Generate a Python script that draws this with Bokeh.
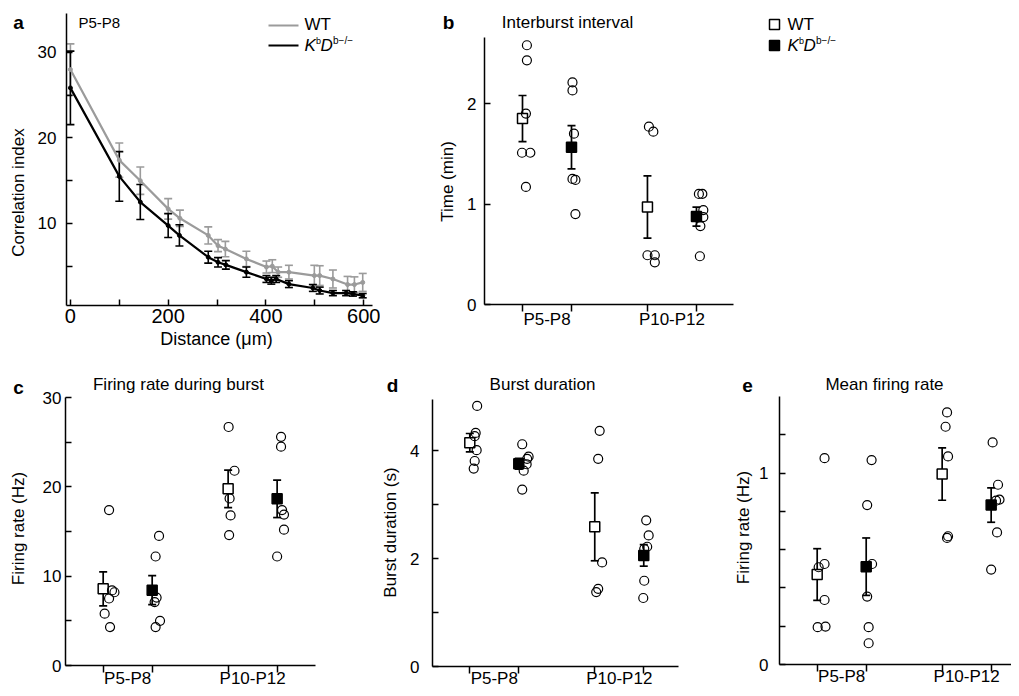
import math
from bokeh.plotting import figure
from bokeh.models import ColumnDataSource, Whisker, TeeHead, Label, FixedTicker, Range1d
from bokeh.layouts import row, column
from bokeh.embed import file_html
from bokeh.resources import INLINE

FONT = "Liberation Sans"
GRAY = "#9b9b9b"

# ---------------- data: panel a (correlation index vs distance) ----------------
wt_dist = [0, 100, 143, 200, 224, 282, 302, 317, 360, 401, 413, 425, 447, 499, 510, 537, 567, 581, 598]
wt_corr = [28.0, 17.4, 15.0, 11.7, 10.6, 8.6, 7.4, 7.0, 5.85, 4.9, 5.0, 4.3, 4.3, 3.9, 3.9, 3.5, 2.85, 2.85, 3.1]
wt_corr_sem = [3.0, 2.0, 1.6, 1.2, 0.95, 1.0, 0.7, 0.9, 0.9, 0.7, 0.75, 0.6, 0.8, 1.2, 1.15, 1.05, 0.95, 0.9, 1.05]
ko_dist = [0, 100, 143, 200, 223, 282, 302, 318, 360, 401, 411, 421, 447, 496, 510, 537, 564, 578, 598]
ko_corr = [25.85, 15.5, 12.5, 9.75, 8.6, 6.05, 5.45, 5.15, 4.3, 3.5, 3.3, 3.5, 2.9, 2.45, 2.15, 1.85, 1.85, 1.75, 1.55]
ko_corr_sem = [4.3, 2.9, 2.05, 1.4, 1.25, 0.7, 0.55, 0.5, 0.6, 0.4, 0.4, 0.4, 0.4, 0.4, 0.4, 0.3, 0.3, 0.25, 0.25]

group_names = ["P5-P8", "P10-P12"]
# order of groups in each panel: WT P5-P8, KO P5-P8, WT P10-P12, KO P10-P12

# ---------------- panel b: interburst interval (min) ----------------
b_points = [[2.58, 2.43, 1.90, 1.51, 1.51, 1.17],
            [2.21, 2.13, 1.70, 1.25, 1.24, 0.90],
            [1.77, 1.72, 0.49, 0.49, 0.42],
            [1.10, 1.10, 0.94, 0.87, 0.78, 0.48]]
b_jitter = [[0.09, 0.09, 0.07, -0.01, 0.16, 0.07],
            [0.02, 0.02, 0.05, 0.02, 0.08, 0.08],
            [0.03, 0.12, 0.0, 0.15, 0.15],
            [0.05, 0.12, 0.14, 0.14, 0.08, 0.07]]
b_mean = [1.85, 1.565, 0.97, 0.875]
b_sem = [0.23, 0.215, 0.31, 0.095]

# ---------------- panel c: firing rate during burst (Hz) ----------------
c_points = [[17.4, 8.4, 8.2, 7.5, 5.8, 4.3],
            [14.5, 12.2, 7.6, 7.1, 5.0, 4.3],
            [26.7, 21.8, 18.7, 16.8, 14.6],
            [25.6, 24.5, 17.4, 16.9, 15.2, 12.2]]
c_jitter = [[0.12, 0.18, 0.23, 0.12, 0.03, 0.14],
            [0.14, 0.07, 0.09, 0.05, 0.16, 0.07],
            [0.01, 0.13, 0.03, 0.05, 0.02],
            [0.08, 0.08, 0.10, 0.14, 0.14, 0.0]]
c_mean = [8.58, 8.43, 19.78, 18.66]
c_sem = [1.9, 1.62, 2.1, 2.1]

# ---------------- panel d: burst duration (s) ----------------
d_points = [[4.83, 4.33, 4.27, 4.01, 3.81, 3.67],
            [4.12, 3.89, 3.85, 3.75, 3.63, 3.28],
            [4.37, 3.85, 1.93, 1.44, 1.38],
            [2.71, 2.43, 2.22, 2.18, 1.59, 1.27]]
d_jitter = [[0.15, 0.12, 0.10, 0.14, 0.10, 0.08],
            [0.07, 0.20, 0.17, 0.16, 0.10, 0.07],
            [0.10, 0.07, 0.15, 0.07, 0.03],
            [0.05, 0.10, 0.07, 0.01, 0.01, -0.01]]
d_mean = [4.15, 3.76, 2.59, 2.06]
d_sem = [0.17, 0.10, 0.63, 0.20]

# ---------------- panel e: mean firing rate (Hz) ----------------
e_points = [[1.078, 0.525, 0.508, 0.337, 0.195, 0.198],
            [1.068, 0.833, 0.525, 0.355, 0.195, 0.111],
            [1.317, 1.242, 1.087, 0.670, 0.661],
            [1.160, 0.939, 0.861, 0.856, 0.690, 0.496]]
e_jitter = [[0.15, 0.15, 0.03, 0.15, 0.01, 0.17],
            [0.11, 0.02, 0.12, 0.02, 0.05, 0.05],
            [0.10, 0.07, 0.12, 0.12, 0.10],
            [0.03, 0.14, 0.17, 0.10, 0.12, 0.0]]
e_mean = [0.47, 0.511, 0.995, 0.833]
e_sem = [0.135, 0.15, 0.137, 0.09]

# ---------------- layout helpers ----------------
CAT_X = [0, 1, 2.55, 3.55]
GROUP_X = [0.5, 3.05]


class Panel:
    """A figure whose frame fills the whole canvas; axes are pinned with fixed_location."""

    def __init__(self, fx, fy, w, h, L, R, T, B, xr, yr):
        self.fx, self.fy, self.w, self.h = fx, fy, w, h
        self.L, self.R, self.T, self.B = L, R, T, B
        self.xr, self.yr = xr, yr
        p = figure(width=w, height=h, title=None,
                   x_range=Range1d(self.dx(fx), self.dx(fx + w)),
                   y_range=Range1d(self.dy(fy + h), self.dy(fy)),
                   min_border_left=0, min_border_right=0, min_border_top=0, min_border_bottom=0,
                   output_backend="svg", toolbar_location=None)
        p.grid.visible = False
        p.outline_line_color = None
        p.background_fill_color = "white"
        p.border_fill_color = "white"
        xa, ya = p.xaxis[0], p.yaxis[0]
        xa.fixed_location = yr[0]
        xa.bounds = xr
        ya.fixed_location = xr[0]
        ya.bounds = yr
        self.p = p

    def dx(self, px):
        return self.xr[0] + (px - self.L) / (self.R - self.L) * (self.xr[1] - self.xr[0])

    def dy(self, py):
        return self.yr[0] + (self.B - py) / (self.B - self.T) * (self.yr[1] - self.yr[0])

    def px(self, x):
        return self.L + (x - self.xr[0]) / (self.xr[1] - self.xr[0]) * (self.R - self.L)

    def label(self, px, py, text, size=17, align="center", angle=0.0, style="normal"):
        self.p.add_layout(Label(x=px - self.fx, y=self.fy + self.h - py,
                                x_units="screen", y_units="screen",
                                text=text, text_font=FONT, text_font_size=f"{size}px",
                                text_font_style=style, text_color="black",
                                text_align=align, text_baseline="middle", angle=angle))

    def kb_label(self, px, py_mid):
        parts = [("K", 0, 0, 17, "italic"), ("b", 11.5, 5, 9, "normal"),
                 ("D", 16, 0, 17, "italic"), ("b\u2212/\u2212", 28.5, 5, 10, "normal")]
        for t, ox, oy, s, st in parts:
            self.label(px + ox, py_mid - oy, t, size=s, align="left", style=st)


def style_axis(ax, size):
    ax.axis_line_color = "black"
    ax.axis_line_width = 1.5
    ax.major_tick_line_color = "black"
    ax.major_tick_line_width = 1.5
    ax.minor_tick_line_color = "black"
    ax.minor_tick_line_width = 1.5
    ax.major_label_text_font = FONT
    ax.major_label_text_font_size = size
    ax.major_label_text_color = "black"


def whisker(p, xs, ys, errs, color, lw, cap):
    src = ColumnDataSource(dict(x=xs, lo=[y - e for y, e in zip(ys, errs)],
                                hi=[y + e for y, e in zip(ys, errs)]))
    p.add_layout(Whisker(source=src, base="x", lower="lo", upper="hi", dimension="height",
                         line_color=color, line_width=lw,
                         upper_head=TeeHead(size=cap, line_color=color, line_width=lw),
                         lower_head=TeeHead(size=cap, line_color=color, line_width=lw)))


def cat_panel(pan, points, jitter, means, sems, yticks, yminor, standoff, label_mid):
    p = pan.p
    xa, ya = p.xaxis[0], p.yaxis[0]
    style_axis(xa, "0px")
    style_axis(ya, "17px")
    xa.ticker = FixedTicker(ticks=[], minor_ticks=CAT_X)
    xa.major_tick_in = 0
    xa.major_tick_out = 0
    xa.minor_tick_in = 0
    xa.minor_tick_out = 7
    ya.ticker = FixedTicker(ticks=yticks, minor_ticks=yminor)
    ya.major_tick_in = 6
    ya.major_tick_out = 0
    ya.minor_tick_in = 6
    ya.minor_tick_out = 0
    ya.major_label_standoff = standoff
    whisker(p, CAT_X, means, sems, "black", 1.7, 8)
    p.scatter(x=CAT_X[0::2], y=means[0::2], marker="square", size=10,
              fill_color="white", line_color="black", line_width=1.5)
    p.scatter(x=CAT_X[1::2], y=means[1::2], marker="square", size=10,
              fill_color="black", line_color="black", line_width=1.5)
    cx, cy = [], []
    for gx, vals, jit in zip(CAT_X, points, jitter):
        for v, j in zip(vals, jit):
            cx.append(gx + j)
            cy.append(v)
    p.scatter(x=cx, y=cy, marker="circle", size=9, fill_color=None,
              line_color="black", line_width=1.2)
    for gx, name in zip(GROUP_X, group_names):
        pan.label(pan.px(gx), label_mid, name, size=17)


# ---------------- panel a ----------------
A = Panel(0, 0, 380, 350, 66, 372, 13, 305, (-8, 618), (0.4, 34.55))
pa = A.p
style_axis(pa.xaxis[0], "20px")
style_axis(pa.yaxis[0], "17px")
pa.xaxis[0].ticker = FixedTicker(ticks=[0, 200, 400, 600], minor_ticks=[100, 300, 500])
pa.xaxis[0].major_tick_in = 6
pa.xaxis[0].major_tick_out = 0
pa.xaxis[0].minor_tick_in = 6
pa.xaxis[0].minor_tick_out = 0
pa.xaxis[0].major_label_standoff = 3
pa.yaxis[0].ticker = FixedTicker(ticks=[10, 20, 30], minor_ticks=[5, 15, 25])
pa.yaxis[0].major_tick_in = 6
pa.yaxis[0].major_tick_out = 0
pa.yaxis[0].minor_tick_in = 6
pa.yaxis[0].minor_tick_out = 0
pa.yaxis[0].major_label_standoff = 10

whisker(pa, wt_dist, wt_corr, wt_corr_sem, GRAY, 1.6, 8)
whisker(pa, ko_dist, ko_corr, ko_corr_sem, "black", 1.6, 8)
pa.line(wt_dist, wt_corr, line_color=GRAY, line_width=2.2)
pa.scatter(wt_dist, wt_corr, marker="circle", size=4, color=GRAY)
pa.line(ko_dist, ko_corr, line_color="black", line_width=2.2)
pa.scatter(ko_dist, ko_corr, marker="circle", size=4, color="black")

# legend a
pa.line([A.dx(268), A.dx(298)], [A.dy(25), A.dy(25)], line_color=GRAY, line_width=2.2)
pa.line([A.dx(268), A.dx(298)], [A.dy(45), A.dy(45)], line_color="black", line_width=2.2)
A.label(304, 24, "WT", align="left")
A.kb_label(304, 45)

A.label(18, 22, "a", size=19, style="bold")
A.label(78, 22, "P5-P8", size=15, align="left")
A.label(18, 192, "Correlation index", size=17, angle=math.pi / 2)
A.label(216, 338, "Distance (\u03bcm)", size=18)

# ---------------- panel b ----------------
B = Panel(380, 0, 631, 350, 484, 733, 37, 304, (-0.7755, 4.306), (0, 2.657))
cat_panel(B, b_points, b_jitter, b_mean, b_sem, [0, 1, 2], [], 8, 319)
pb = B.p
pb.scatter(x=[B.dx(774)], y=[B.dy(24)], marker="square", size=10,
           fill_color="white", line_color="black", line_width=1.5)
pb.scatter(x=[B.dx(774)], y=[B.dy(45)], marker="square", size=10,
           fill_color="black", line_color="black", line_width=1.5)
B.label(787, 24, "WT", align="left")
B.kb_label(787, 45)
B.label(448, 22, "b", size=19, style="bold")
B.label(567, 22, "Interburst interval", size=17)
B.label(447, 181, "Time (min)", size=17, angle=math.pi / 2)

# ---------------- panel c ----------------
C = Panel(0, 350, 340, 338, 65, 315, 397, 665, (-0.769, 4.333), (0, 30))
cat_panel(C, c_points, c_jitter, c_mean, c_sem, [0, 10, 20, 30], [5, 15, 25], 4, 678)
C.label(18, 387, "c", size=19, style="bold")
C.label(178, 384, "Firing rate during burst", size=17)
C.label(18, 528, "Firing rate (Hz)", size=17, angle=math.pi / 2)

# ---------------- panel d ----------------
D = Panel(340, 350, 340, 338, 432, 678, 399, 666, (-0.761, 4.259), (0, 4.95))
cat_panel(D, d_points, d_jitter, d_mean, d_sem, [0, 2, 4], [1, 3], 13, 678)
D.label(392, 385, "d", size=19, style="bold")
D.label(542, 384, "Burst duration", size=17)
D.label(390, 532, "Burst duration (s)", size=17, angle=math.pi / 2)

# ---------------- panel e ----------------
E = Panel(680, 350, 331, 338, 779, 1011, 396, 664, (-0.769, 3.965), (0, 1.4))
cat_panel(E, e_points, e_jitter, e_mean, e_sem, [0, 1], [0.2, 0.4, 0.6, 0.8, 1.2], 11, 676)
E.label(747, 385, "e", size=19, style="bold")
E.label(884, 384, "Mean firing rate", size=17)
E.label(743, 527, "Firing rate (Hz)", size=17, angle=math.pi / 2)

layout = column(row(A.p, B.p), row(C.p, D.p, E.p))
open("out.html", "w").write(file_html(layout, INLINE))
